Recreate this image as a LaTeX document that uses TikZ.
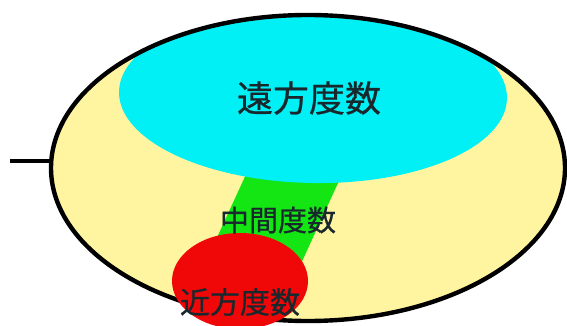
\documentclass[tikz,border=0pt]{standalone}
\usepackage{fontspec}
\newfontfamily\cjk{Noto Sans CJK JP}[FakeBold=0.6]
\usetikzlibrary{shapes.geometric}
\definecolor{bgyellow}{RGB}{255,245,160}
\definecolor{farcyan}{RGB}{0,240,245}
\definecolor{midgreen}{RGB}{20,230,20}
\definecolor{nearred}{RGB}{240,8,8}
\definecolor{txtdark}{RGB}{25,40,45}
\tikzset{
  zone/.style={ellipse, inner sep=0pt, draw=none},
  lbl/.style={font=\cjk, text=txtdark, inner sep=0pt},
  rim/.style={draw=black, line width=4.4pt},
}
\begin{document}
\begin{tikzpicture}[x=1pt,y=-1pt]
\useasboundingbox (0,0) rectangle (567,326);
% outer lens fill
\node[zone, fill=bgyellow, minimum width=514pt, minimum height=306pt] (outer) at (308,168) {};
\begin{scope}
  \clip (308,168) ellipse [x radius=257, y radius=153];
  \fill[midgreen] (248,170) -- (344,170) -- (288,292) -- (192,292) -- cycle;
  \node[zone, fill=farcyan, minimum width=388pt, minimum height=176pt, rotate=-1] (far) at (313,95) {};
\end{scope}
% rim
\draw[rim] (308,168) ellipse [x radius=257, y radius=153];
\coordinate (stub) at (10,161);
\draw[rim] (stub) -- (stub -| outer.west);
% near zone
\node[zone, fill=nearred, minimum width=136pt, minimum height=96pt] (near) at (240,281) {};
% labels
\node[lbl, font=\cjk\fontsize{36}{36}\selectfont] (farlbl) at (309,98) {遠方度数};
\node[lbl, font=\cjk\fontsize{29}{29}\selectfont] (midlbl) at (278,220) {中間度数};
\node[lbl, font=\cjk\fontsize{30}{30}\selectfont] (nearlbl) at (240,302) {近方度数};
\end{tikzpicture}
\end{document}
